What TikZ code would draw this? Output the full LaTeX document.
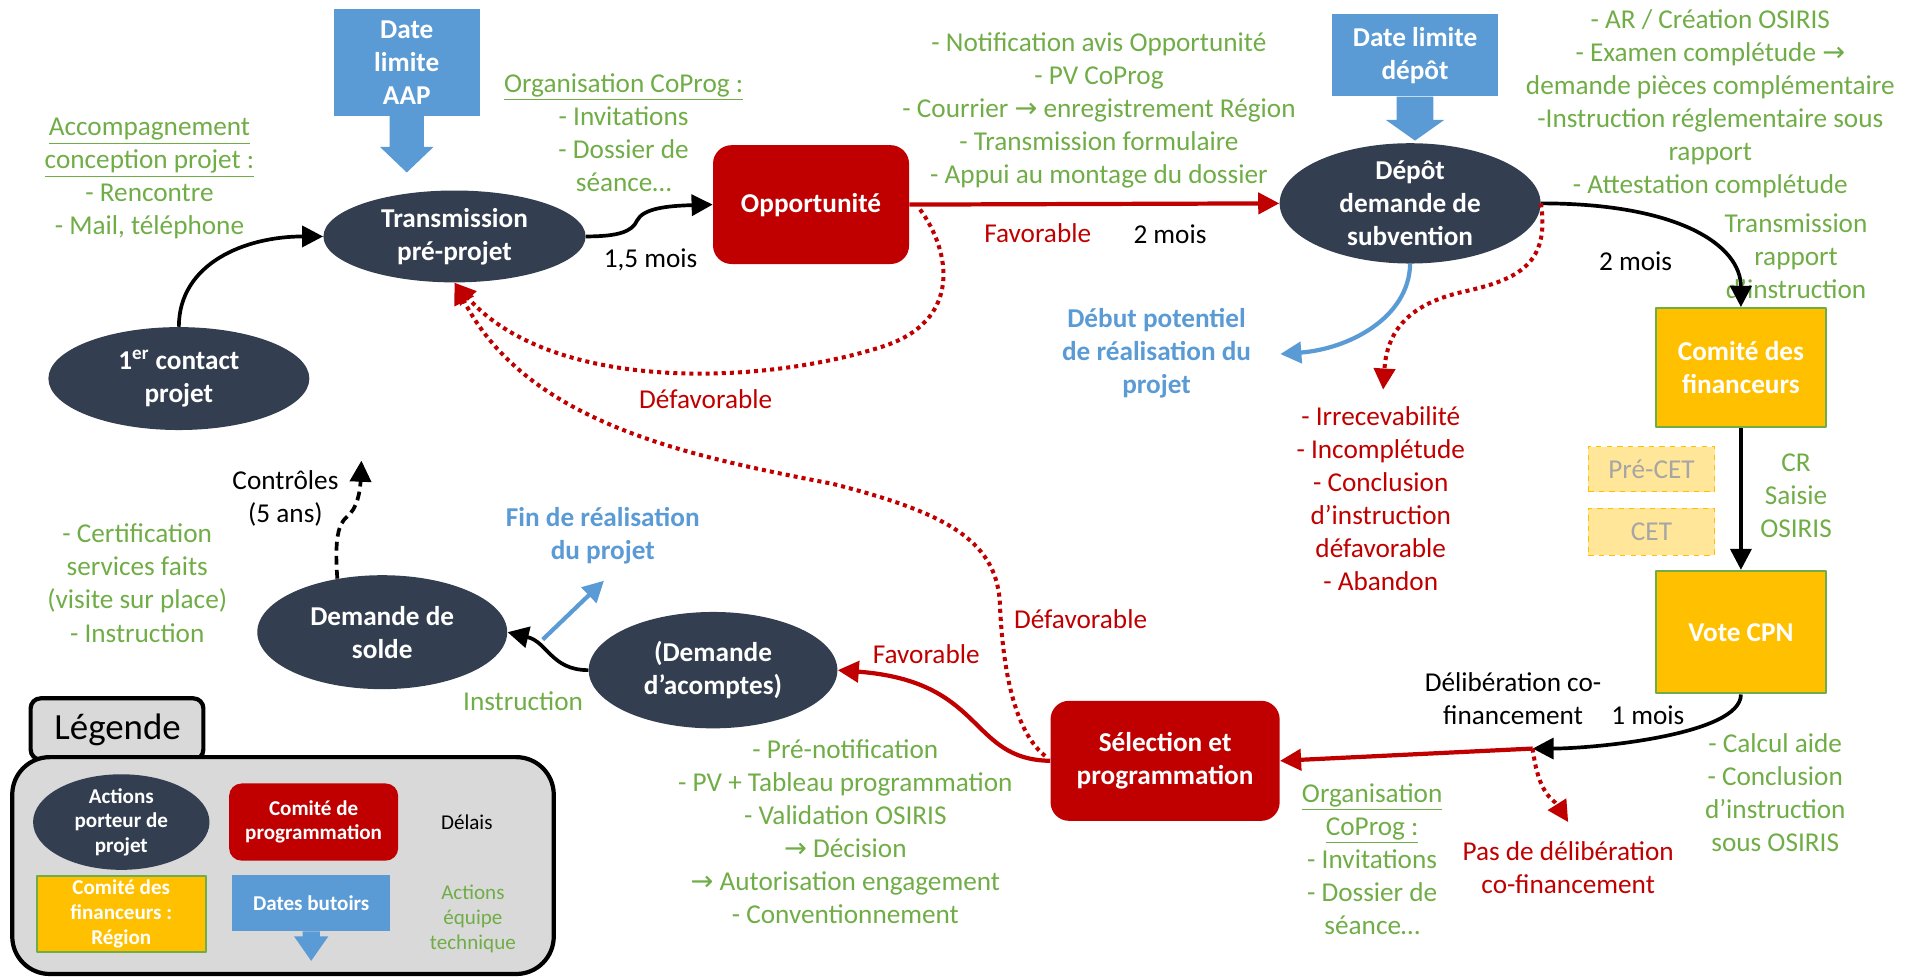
\documentclass[tikz,border=0pt]{standalone}
\usepackage{fontspec}
\setmainfont{Carlito}
\newfontfamily\arrowfont{DejaVu Sans}
\usetikzlibrary{arrows.meta,shapes.geometric,calc}

\definecolor{navy}{HTML}{333F50}
\definecolor{cred}{HTML}{C00000}
\definecolor{cblue}{HTML}{5B9BD5}
\definecolor{cyel}{HTML}{FFC000}
\definecolor{cgreen}{HTML}{70AD47}
\definecolor{cpale}{HTML}{FFE699}
\definecolor{cgris}{HTML}{D9D9D9}

\def\pxu{0.0245cm}
\newcommand{\txtsize}{\fontsize{15.5}{18.8}\selectfont}
\newcommand{\legsize}{\fontsize{12}{14}\selectfont}
\newcommand{\fl}{{\arrowfont →}}

\begin{document}
\begin{tikzpicture}[x=0.0245cm, y=-0.0245cm, line join=round, >={Triangle[length=12pt,width=12pt]},
  every node/.style={font=\txtsize, align=center, inner sep=0pt},
  porteur/.style={ellipse, fill=navy, text=white, font=\txtsize\bfseries},
  comite/.style={rectangle, rounded corners=0.37cm, fill=cred, text=white, font=\txtsize\bfseries},
  financeur/.style={rectangle, fill=cyel, draw=cgreen, line width=1.2pt, text=white, font=\txtsize\bfseries},
  butoir/.style={rectangle, fill=cblue, text=white, font=\txtsize\bfseries},
  equipe/.style={text=cgreen},
  refus/.style={text=cred},
  flow/.style={->, line width=2.1pt},
  favo/.style={->, cred, line width=2.4pt},
  defavo/.style={->, cred, line width=2.3pt, dash pattern=on 2.3pt off 2.3pt},
  blueflow/.style={->, cblue, line width=2.4pt}]
\useasboundingbox (0,0) rectangle (1568,797);

% nodes of the process
\node[porteur, minimum width=213*\pxu, minimum height=84*\pxu] (contact) at (146,309) {1\textsuperscript{er} contact\\projet};
\node[porteur, minimum width=214*\pxu, minimum height=75*\pxu] (trans) at (371,193) {Transmission\\pré-projet};
\node[comite, minimum width=160*\pxu, minimum height=97*\pxu] (opp) at (662,167) {Opportunité};
\node[porteur, minimum width=213*\pxu, minimum height=93*\pxu] (depot) at (1151,166) {Dépôt\\demande de\\subvention};
\node[financeur, minimum width=139*\pxu, minimum height=97*\pxu] (comite) at (1421,300) {Comité des\\financeurs};
\node[financeur, minimum width=139*\pxu, minimum height=100*\pxu] (vote) at (1421,516) {Vote CPN};
\node[comite, minimum width=187*\pxu, minimum height=98*\pxu] (sel) at (951,621) {Sélection et\\programmation};
\node[porteur, minimum width=203*\pxu, minimum height=95*\pxu] (acompte) at (582,547) {(Demande\\d’acomptes)};
\node[porteur, minimum width=204*\pxu, minimum height=93*\pxu] (solde) at (312,516) {Demande de\\solde};

% pre-CET / CET
\node[rectangle, fill=cpale, draw=cyel, dashed, line width=0.5pt, text=black!35, minimum width=103*\pxu, minimum height=37*\pxu] (precet) at (1348,383) {Pré-CET};
\node[rectangle, fill=cpale, draw=cyel, dashed, line width=0.5pt, text=black!35, minimum width=103*\pxu, minimum height=38*\pxu] (cet) at (1348,434) {CET};

% dates butoirs
\node[butoir, minimum width=119*\pxu, minimum height=87*\pxu] (aap) at (332,51) {Date\\limite\\AAP};
\fill[cblue] ($(aap.south)+(-14,0)$) -- ++(0,25) -- ++(-8,0) -- ++(22,21) -- ++(22,-21) -- ++(-8,0) -- ++(0,-25) -- cycle;
\node[butoir, minimum width=135*\pxu, minimum height=67*\pxu] (dlim) at (1155,45) {Date limite\\dépôt};
\fill[cblue] ($(dlim.south)+(-15,0)$) -- ++(0,19) -- ++(-9,0) -- ++(24,17) -- ++(24,-17) -- ++(-9,0) -- ++(0,-19) -- cycle;

% texts
\node[equipe] (accomp) at (122,146) {\underline{Accompagnement}\\\underline{conception projet :}\\- Rencontre\\- Mail, téléphone};
\node[equipe] (org1) at (509,108) {\underline{Organisation CoProg :}\\- Invitations\\- Dossier de\\séance…};
\node[equipe] (notif) at (897,90) {- Notification avis Opportunité\\- PV CoProg\\- Courrier \fl{} enregistrement Région\\- Transmission formulaire\\- Appui au montage du dossier};
\node[equipe] (osiris) at (1396,85) {- AR / Création OSIRIS\\- Examen complétude \fl\\demande pièces complémentaire\\-Instruction réglementaire sous\\rapport\\- Attestation complétude};
\node[equipe] (transrap) at (1466,209) {Transmission\\rapport\\d’instruction};
\node[text=cblue, font=\txtsize\bfseries] (debut) at (944,288) {Début potentiel\\de réalisation du\\projet};
\node[refus] (irrec) at (1127,407) {- Irrecevabilité\\- Incomplétude\\- Conclusion\\d’instruction\\défavorable\\- Abandon};
\node[equipe] (cr) at (1466,405) {CR\\Saisie\\OSIRIS};
\node[equipe] (calcul) at (1449,647) {- Calcul aide\\- Conclusion\\d’instruction\\sous OSIRIS};
\node[equipe] (org2) at (1120,701) {\underline{Organisation}\\\underline{CoProg :}\\- Invitations\\- Dossier de\\séance…};
\node[refus] (pasdelib) at (1280,708) {Pas de délibération\\co-financement};
\node (delibtxt) at (1235,570) {Délibération co-\\financement};
\node (unmois) at (1345,584) {1 mois};
\node[equipe] (prenotif) at (690,679) {- Pré-notification\\- PV + Tableau programmation\\- Validation OSIRIS\\\fl{} Décision\\\fl{} Autorisation engagement\\- Conventionnement};
\node[text=cblue, font=\txtsize\bfseries] (fin) at (492,437) {Fin de réalisation\\du projet};
\node (controles) at (233,407) {Contrôles\\(5 ans)};
\node[equipe] (certif) at (112,476) {- Certification\\services faits\\(visite sur place)\\- Instruction};
\node[equipe] (instr) at (427,572) {Instruction};
\node (unecinq) at (531,212) {1,5 mois};
\node[refus] (favo1) at (847,190) {Favorable};
\node (deuxmois1) at (955,191) {2 mois};
\node (deuxmois2) at (1335,213) {2 mois};
\node[refus] (favo2) at (756,534) {Favorable};
\node[refus] (defavo1) at (576,326) {Défavorable};
\node[refus] (defavo2) at (882,505) {Défavorable};

% free ends
\coordinate (delib) at (1251,611);
\coordinate (irr) at (1129,318);
\coordinate (pas) at (1280,671);
\coordinate (debutpt) at (1045,289);
\coordinate (finst) at (443,522);
\coordinate (finpt) at (493,474);
\coordinate (ctrlpt) at (295,376);
\coordinate (kink) at (283,422);
\coordinate (wave) at (520,180);
\coordinate (oppdot) at (751,171);
\coordinate (seldot) at (853,617);

% connectors
\draw[flow] (contact.north) .. controls (146,215) and (200,193) .. (trans.west);
\draw[flow] (trans.east) .. controls (505,193) and (516,189) .. (wave) .. controls (525,170) and (545,168) .. (opp.west);
\draw[favo] (opp.east) -- (depot.west);
\draw[defavo] (oppdot) .. controls (776,205) and (786,262) .. (720,283) .. controls (620,315) and (450,320) .. (trans.south);
\draw[defavo] (seldot) .. controls (826,595) and (818,540) .. (816,490) .. controls (812,440) and (770,418) .. (680,395) .. controls (560,372) and (430,345) .. (trans.south);
\draw[flow] (depot.east) .. controls (1370,166) and (1421,200) .. (comite.north);
\draw[blueflow] (depot.south) .. controls (1150,260) and (1100,285) .. (debutpt);
\draw[defavo] (depot.east) .. controls (1265,215) and (1240,228) .. (1195,238) .. controls (1150,248) and (1132,270) .. (irr);
\draw[flow] (comite.south) -- (vote.north);
\draw[flow] (vote.south) .. controls (1421,600) and (1300,611) .. (delib);
\draw[favo] (delib) -- (sel.east);
\draw[defavo] (delib) .. controls (1256,650) and (1268,652) .. (pas);
\draw[favo] (sel.west) .. controls (790,620) and (805,556) .. (acompte.east);
\draw[flow] (acompte.west) .. controls (450,547) and (447,524) .. (solde.east);
\draw[blueflow] (finst) -- (finpt);
\draw[flow, dash pattern=on 5pt off 3pt] (solde.130) .. controls (273,440) and (276,428) .. (kink) .. controls (292,415) and (294,400) .. (ctrlpt);

% legend
\draw[fill=cgris, line width=2.4pt, rounded corners=0.2cm] (25,570) rectangle (166,620);
\node[font=\fontsize{21}{24}\selectfont] (legende) at (96,596) {Légende};
\draw[fill=cgris, line width=2.4pt, rounded corners=0.75cm] (10,618) rectangle (452,795);
\node[porteur, font=\legsize\bfseries, minimum width=144*\pxu, minimum height=63*\pxu] (legporteur) at (99,671) {Actions\\porteur de\\projet};
\node[comite, font=\legsize\bfseries, rounded corners=0.25cm, minimum width=138*\pxu, minimum height=63*\pxu] (legcomite) at (256,671) {Comité de\\programmation};
\node[font=\legsize] (legdelais) at (381,671) {Délais};
\node[financeur, font=\legsize\bfseries, minimum width=138*\pxu, minimum height=62*\pxu] (legfin) at (99,746) {Comité des\\financeurs :\\Région};
\node[butoir, font=\legsize\bfseries, minimum width=129*\pxu, minimum height=46*\pxu] (legbutoir) at (254,737) {Dates butoirs};
\fill[cblue] ($(legbutoir.south)+(-7,0)$) -- ++(0,4) -- ++(-7,0) -- ++(14,20) -- ++(14,-20) -- ++(-7,0) -- ++(0,-4) -- cycle;
\node[equipe, font=\legsize] (legequipe) at (386,750) {Actions\\équipe\\technique};
\end{tikzpicture}
\end{document}
